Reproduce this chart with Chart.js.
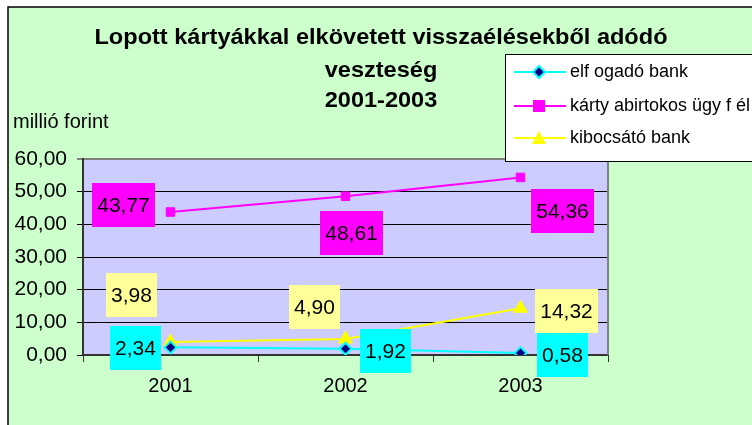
<!DOCTYPE html>
<html>
<head>
<meta charset="utf-8">
<script src="https://cdn.jsdelivr.net/npm/chart.js@4/dist/chart.umd.min.js"></script>
<style>
  html, body { margin: 0; padding: 0; background: #ffffff; }
  #wrap { width: 752px; height: 425px; position: relative; }
</style>
</head>
<body>
<div id="wrap"><canvas id="c" width="752" height="425"></canvas></div>
<script>
// ---- data ----
const categories = ['2001', '2002', '2003'];
const seriesNames = ['elf ogadó bank', 'kárty abirtokos ügy f él', 'kibocsátó bank'];
const elfogadoBank = [2.34, 1.92, 0.58];
const kartyabirtokos = [43.77, 48.61, 54.36];
const kibocsatoBank = [3.98, 4.90, 14.32];
const yMin = 0, yMax = 60, yStep = 10;
const titleLines = ['Lopott kártyákkal elkövetett visszaélésekből adódó', 'veszteség', '2001-2003'];
const yAxisTitle = 'millió forint';

// ---- styles ----
const FONT = '"Liberation Sans", Arial, sans-serif';
const colors = {
  page: '#CCFFCC', plot: '#CCCCFF',
  cyan: '#00FFFF', magenta: '#FF00FF', yellow: '#FFFF00', navy: '#000080',
  labelBg: ['#00FFFF', '#FF00FF', '#FFFF99']
};
// label box centre offset from the point (pixels)
const labelOffsets = [
  [[-35, 1], [40, 2], [42, 2]],
  [[-47, -7], [6, 37], [42, 34]],
  [[-39, -47], [-31, -32], [46, 3]]
];

function fmt(v) { return v.toFixed(2).replace('.', ','); }

const framePlugin = {
  id: 'frame',
  beforeDraw(chart) {
    const ctx = chart.ctx;
    const a = chart.chartArea;
    ctx.save();
    ctx.fillStyle = '#ffffff';
    ctx.fillRect(0, 0, 752, 425);
    ctx.fillStyle = colors.page;
    ctx.fillRect(8, 7, 752, 425);
    ctx.strokeStyle = '#000000';
    ctx.lineWidth = 1.5;
    ctx.beginPath();
    ctx.moveTo(8, 425); ctx.lineTo(8, 7); ctx.lineTo(752, 7);
    ctx.stroke();
    ctx.fillStyle = colors.plot;
    ctx.fillRect(a.left, a.top, a.right - a.left, a.bottom - a.top);
    // title
    ctx.fillStyle = '#000000';
    ctx.font = 'bold 22px ' + FONT;
    ctx.textAlign = 'center';
    ctx.textBaseline = 'alphabetic';
    const base = [44, 77, 107];
    titleLines.forEach((t, i) => {
      ctx.save();
      ctx.translate(381, base[i]);
      ctx.scale(1.07, 1);
      ctx.fillText(t, 0, 0);
      ctx.restore();
    });
    // axis title
    ctx.font = '20px ' + FONT;
    ctx.textAlign = 'left';
    ctx.fillText(yAxisTitle, 13, 128);
    ctx.restore();
  },
  afterDatasetsDraw(chart) {
    const ctx = chart.ctx;
    const a = chart.chartArea;
    ctx.save();
    // right border of plot area
    ctx.strokeStyle = '#808080';
    ctx.lineWidth = 2;
    ctx.beginPath();
    ctx.moveTo(a.right, a.top); ctx.lineTo(a.right, a.bottom);
    ctx.stroke();
    // data labels
    ctx.font = '21px ' + FONT;
    ctx.textAlign = 'center';
    ctx.textBaseline = 'middle';
    chart.data.datasets.forEach((ds, di) => {
      const meta = chart.getDatasetMeta(di);
      meta.data.forEach((pt, i) => {
        const txt = fmt(ds.data[i]);
        const w = ctx.measureText(txt).width + 10;
        const h = 44;
        const cx = pt.x + labelOffsets[di][i][0];
        const cy = pt.y + labelOffsets[di][i][1];
        ctx.fillStyle = colors.labelBg[di];
        ctx.fillRect(Math.round(cx - w / 2), Math.round(cy - h / 2), Math.round(w), h);
        ctx.fillStyle = '#000000';
        ctx.fillText(txt, cx, cy + 1);
      });
    });
    // legend
    const lx = 505.5, ly = 54.5, lw = 260, lh = 107;
    ctx.fillStyle = '#ffffff';
    ctx.fillRect(lx, ly, lw, lh);
    ctx.strokeStyle = '#000000';
    ctx.lineWidth = 1;
    ctx.strokeRect(lx, ly, lw, lh);
    const rows = [72, 106, 138];
    const lineCols = [colors.cyan, colors.magenta, colors.yellow];
    ctx.font = '18px ' + FONT;
    ctx.textAlign = 'left';
    ctx.textBaseline = 'middle';
    chart.data.datasets.forEach((ds, di) => {
      const y = rows[di];
      ctx.strokeStyle = lineCols[di];
      ctx.lineWidth = 2;
      ctx.beginPath(); ctx.moveTo(514, y); ctx.lineTo(566, y); ctx.stroke();
      const mx = 539;
      if (di === 0) {
        ctx.beginPath();
        ctx.moveTo(mx, y - 6); ctx.lineTo(mx + 6, y); ctx.lineTo(mx, y + 6); ctx.lineTo(mx - 6, y); ctx.closePath();
        ctx.fillStyle = colors.navy; ctx.fill();
        ctx.strokeStyle = colors.cyan; ctx.lineWidth = 2; ctx.stroke();
      } else if (di === 1) {
        ctx.fillStyle = colors.magenta;
        ctx.fillRect(mx - 6, y - 6, 12, 12);
      } else {
        ctx.beginPath();
        ctx.moveTo(mx, y - 7); ctx.lineTo(mx + 7, y + 6); ctx.lineTo(mx - 7, y + 6); ctx.closePath();
        ctx.fillStyle = colors.yellow; ctx.fill();
      }
      ctx.fillStyle = '#000000';
      ctx.fillText(ds.label, 570, y);
    });
    ctx.restore();
  }
};

new Chart(document.getElementById('c'), {
  type: 'line',
  data: {
    labels: categories,
    datasets: [
      { label: seriesNames[0], data: elfogadoBank, borderColor: colors.cyan, borderWidth: 2,
        pointStyle: 'rectRot', pointRadius: 6, pointBackgroundColor: colors.navy,
        pointBorderColor: colors.cyan, pointBorderWidth: 2, tension: 0 },
      { label: seriesNames[1], data: kartyabirtokos, borderColor: colors.magenta, borderWidth: 2,
        pointStyle: 'rect', pointRadius: 6, pointBackgroundColor: colors.magenta,
        pointBorderColor: colors.magenta, pointBorderWidth: 1, tension: 0 },
      { label: seriesNames[2], data: kibocsatoBank, borderColor: colors.yellow, borderWidth: 2,
        pointStyle: 'triangle', pointRadius: 8, pointBackgroundColor: colors.yellow,
        pointBorderColor: colors.yellow, pointBorderWidth: 1, tension: 0 }
    ]
  },
  options: {
    responsive: false,
    animation: false,
    events: [],
    layout: { padding: { left: 0, top: 159, right: 144, bottom: 0 } },
    plugins: { legend: { display: false }, title: { display: false }, tooltip: { enabled: false } },
    scales: {
      x: {
        offset: true,
        grid: { offset: true, drawOnChartArea: false, drawTicks: true, tickLength: 7, color: '#333333', lineWidth: 1 },
        border: { color: '#333333', width: 2 },
        ticks: { color: '#000000', font: { family: FONT, size: 20 }, padding: 12 },
        afterFit(s) { s.height = 70; }
      },
      y: {
        min: yMin, max: yMax,
        grid: {
          color: (c) => (c.tick && c.tick.value === yMax ? '#808080' : '#000000'),
          lineWidth: (c) => (c.tick && c.tick.value === yMax ? 2 : 1),
          tickLength: 6, drawTicks: true
        },
        border: { color: '#333333', width: 2 },
        ticks: { stepSize: yStep, color: '#000000', font: { family: FONT, size: 21 }, padding: 10,
                 callback: (v) => fmt(v) },
        afterFit(s) { s.width = 83; }
      }
    }
  },
  plugins: [framePlugin]
});
</script>
</body>
</html>
